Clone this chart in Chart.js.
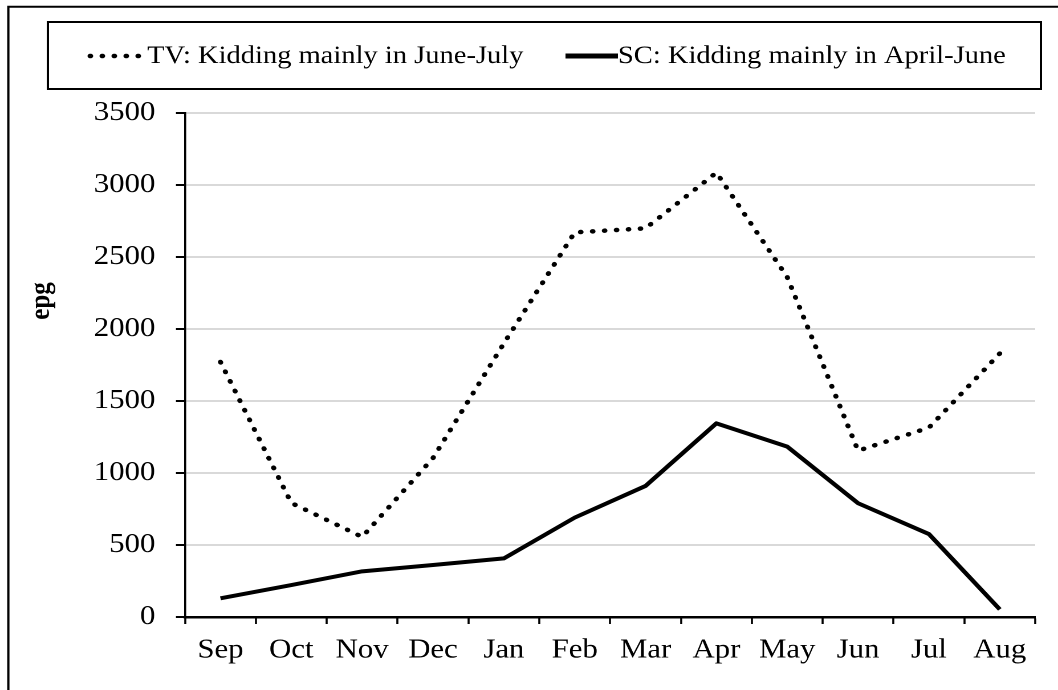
<!DOCTYPE html>
<html>
<head>
<meta charset="utf-8">
<title>epg by month</title>
<script src="https://cdn.jsdelivr.net/npm/chart.js@4/dist/chart.umd.min.js"></script>
<style>
  html, body { margin: 0; padding: 0; background: #fff; overflow: hidden; }
  /* the original figure is stretched sideways, so draw narrow and widen it */
  #wrap { width: 928px; height: 690px; transform: scaleX(1.1401); transform-origin: 0 0; }
</style>
</head>
<body>
<div id="wrap"><canvas id="epgChart"></canvas></div>
<script>
// Data
var months = ['Sep', 'Oct', 'Nov', 'Dec', 'Jan', 'Feb', 'Mar', 'Apr', 'May', 'Jun', 'Jul', 'Aug'];
var tvValues = [1771, 792, 556, 1104, 1900, 2671, 2699, 3086, 2360, 1155, 1315, 1830];
var scValues = [130, 222, 317, 361, 407, 690, 910, 1345, 1183, 790, 576, 53];
var tvLabel = 'TV: Kidding mainly in June-July';
var scLabel = 'SC: Kidding mainly in April-June';
var yTitle = 'epg';

var serif = "'Liberation Serif', 'Times New Roman', serif";

// frame, legend box and rotated axis title
var decorPlugin = {
  id: 'decor',
  afterDraw: function(chart) {
    var ctx = chart.ctx;
    ctx.save();
    ctx.strokeStyle = '#000';
    ctx.lineWidth = 2;
    ctx.beginPath();
    ctx.moveTo(7.3, 700);
    ctx.lineTo(7.3, 6.7);
    ctx.lineTo(940, 6.7);
    ctx.stroke();

    ctx.strokeRect(42, 22, 871, 67);

    // legend samples
    ctx.lineCap = 'round';
    ctx.lineWidth = 4.5;
    ctx.setLineDash([0.5, 10]);
    ctx.beginPath();
    ctx.moveTo(79, 56);
    ctx.lineTo(122, 56);
    ctx.stroke();
    ctx.setLineDash([]);
    ctx.lineCap = 'butt';
    ctx.lineWidth = 5;
    ctx.beginPath();
    ctx.moveTo(496, 56);
    ctx.lineTo(542, 56);
    ctx.stroke();

    ctx.fillStyle = '#000';
    ctx.font = '25px ' + serif;
    ctx.textAlign = 'left';
    ctx.textBaseline = 'alphabetic';
    ctx.fillText(tvLabel, 129, 63);
    ctx.fillText(scLabel, 542, 63);

    ctx.translate(43, 301);
    ctx.rotate(-Math.PI / 2);
    ctx.font = 'bold 25px ' + serif;
    ctx.textAlign = 'center';
    ctx.fillText(yTitle, 0, 0);
    ctx.restore();
  }
};

var data = {
  labels: months,
  datasets: [
    {
      label: tvLabel,
      data: tvValues,
      borderColor: '#000',
      borderWidth: 4.5,
      borderDash: [0.5, 10],
      borderCapStyle: 'round',
      pointRadius: 0,
      tension: 0,
      fill: false
    },
    {
      label: scLabel,
      data: scValues,
      borderColor: '#000',
      borderWidth: 4,
      borderJoinStyle: 'round',
      pointRadius: 0,
      tension: 0,
      fill: false
    }
  ]
};

var config = {
  type: 'line',
  data: data,
  options: {
    responsive: true,
    maintainAspectRatio: false,
    animation: false,
    devicePixelRatio: 2,
    layout: { padding: { left: 62, right: 20, top: 113, bottom: 0 } },
    plugins: {
      legend: { display: false },
      tooltip: { enabled: false }
    },
    scales: {
      x: {
        offset: true,
        grid: {
          offset: true,
          drawOnChartArea: false,
          drawTicks: true,
          tickLength: 7,
          tickColor: '#000',
          tickWidth: 1.8
        },
        border: { color: '#000', width: 2.5 },
        ticks: {
          color: '#000',
          padding: 10,
          maxRotation: 0,
          autoSkip: false,
          font: { family: serif, size: 27 }
        },
        afterFit: function(scale) { scale.height = 73; }
      },
      y: {
        min: 0,
        max: 3500,
        grid: {
          color: '#d9d9d9',
          lineWidth: 2,
          tickLength: 8,
          tickColor: '#000',
          tickWidth: 2
        },
        border: { color: '#000', width: 1.8 },
        ticks: {
          stepSize: 500,
          color: '#000',
          padding: 18,
          font: { family: serif, size: 27 },
          callback: function(v) { return String(v); }
        },
        afterFit: function(scale) { scale.width = 100.3; }
      }
    }
  },
  plugins: [decorPlugin]
};

var ctx = document.getElementById('epgChart').getContext('2d');
var epgChart = new Chart(ctx, config);
</script>
</body>
</html>
